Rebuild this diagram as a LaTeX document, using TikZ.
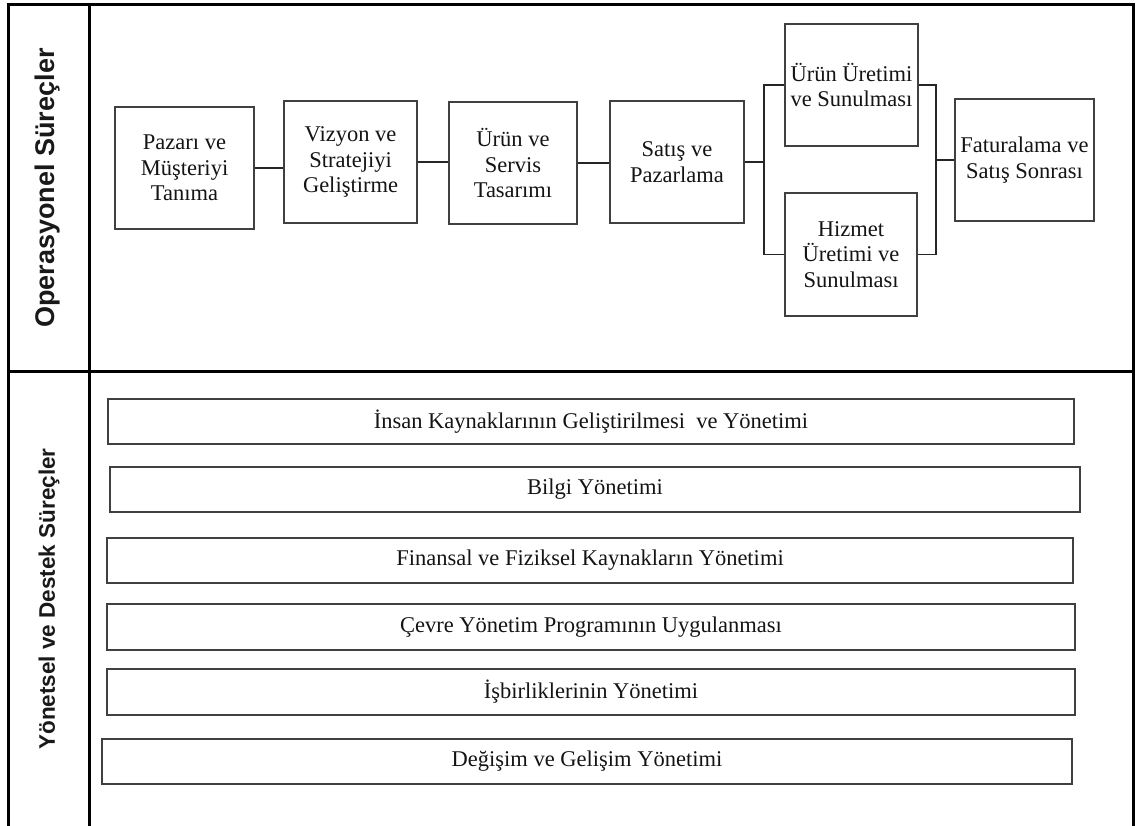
\documentclass[tikz,border=0pt]{standalone}
\usepackage{fontspec}
\setmainfont{Liberation Serif}
\newfontfamily\labelfont{Liberation Sans}
\begin{document}
\begin{tikzpicture}[x=1pt,y=-1pt,
  frame/.style={line width=3pt,black},
  opbox/.style={draw=black!75,line width=1.1pt,rectangle,inner sep=0pt,align=center,
    font=\fontsize{22.5}{25.5}\selectfont,text=black!92},
  supbox/.style={draw=black!75,line width=1.1pt,rectangle,inner sep=0pt,align=center,
    minimum height=45pt,font=\fontsize{22.5}{25.5}\selectfont,text=black!92},
  conn/.style={line width=1.1pt,black!85},
  sidelabel/.style={rotate=90,font=\labelfont\bfseries,text=black!90,inner sep=0pt}]
\useasboundingbox (0,0) rectangle (1136,826);
% frame
\coordinate (tl) at (8,5);
\coordinate (tm) at (89,5);
\coordinate (tr) at (1133,5);
\coordinate (bl) at (8,826);
\coordinate (bm) at (89,826);
\coordinate (br) at (1133,826);
\coordinate (ml) at (8,372);
\coordinate (mr) at (1133,372);
\draw[frame] (bl) -- (tl) -- (tr) -- (br);
\draw[frame] (tm) -- (bm);
\draw[frame] (ml) -- (mr);
% side labels
\node[sidelabel,font=\labelfont\bfseries\fontsize{27}{30}\selectfont] (opl) at (48,188) {Operasyonel Süreçler};
\node[sidelabel,font=\labelfont\bfseries\fontsize{22.5}{25}\selectfont] (supl) at (49,599) {Yönetsel ve Destek Süreçler};
% operational boxes
\node[opbox,minimum width=139pt,minimum height=122pt] (b1) at (184.5,168) {Pazarı ve\\Müşteriyi\\Tanıma};
\node[opbox,minimum width=133pt,minimum height=122pt] (b2) at (350.5,162) {Vizyon ve\\Stratejiyi\\Geliştirme};
\node[opbox,minimum width=128pt,minimum height=122pt] (b3) at (513,163) {Ürün ve\\Servis\\Tasarımı};
\node[opbox,minimum width=134pt,minimum height=122pt] (b4) at (677,162) {Satış ve\\Pazarlama};
\node[opbox,minimum width=133pt,minimum height=122pt] (b5) at (851.5,85) {Ürün Üretimi\\ve Sunulması};
\node[opbox,minimum width=132pt,minimum height=123pt] (b6) at (851,254.5) {Hizmet\\Üretimi ve\\Sunulması};
\node[opbox,minimum width=139pt,minimum height=122pt] (b7) at (1024.5,160) {Faturalama ve\\Satış Sonrası};
% connectors
\coordinate (jL) at (764,162);
\coordinate (jR) at (936,160);
\draw[conn] (b1.east) -- (b1.east -| b2.west);
\draw[conn] (b2.east) -- (b2.east -| b3.west);
\draw[conn] (b3.east) -- (b3.east -| b4.west);
\draw[conn] (b4.east) -- (jL);
\draw[conn] (b5.west) -| (jL) |- (b6.west);
\draw[conn] (b5.east) -| (jR) |- (b6.east);
\draw[conn] (jR) -- (b7.west);
% support boxes
\node[supbox,minimum width=966pt] (s1) at (591,421.5) {İnsan Kaynaklarının Geliştirilmesi\ \ ve Yönetimi};
\node[supbox,minimum width=970pt] (s2) at (595,489.5) {Bilgi Yönetimi};
\node[supbox,minimum width=966pt] (s3) at (590,560.5) {Finansal ve Fiziksel Kaynakların Yönetimi};
\node[supbox,minimum width=968pt,minimum height=46pt] (s4) at (591,627) {Çevre Yönetim Programının Uygulanması};
\node[supbox,minimum width=968pt,minimum height=46pt] (s5) at (591,692) {İşbirliklerinin Yönetimi};
\node[supbox,minimum width=970pt] (s6) at (587,761.5) {Değişim ve Gelişim Yönetimi};
\end{tikzpicture}
\end{document}
